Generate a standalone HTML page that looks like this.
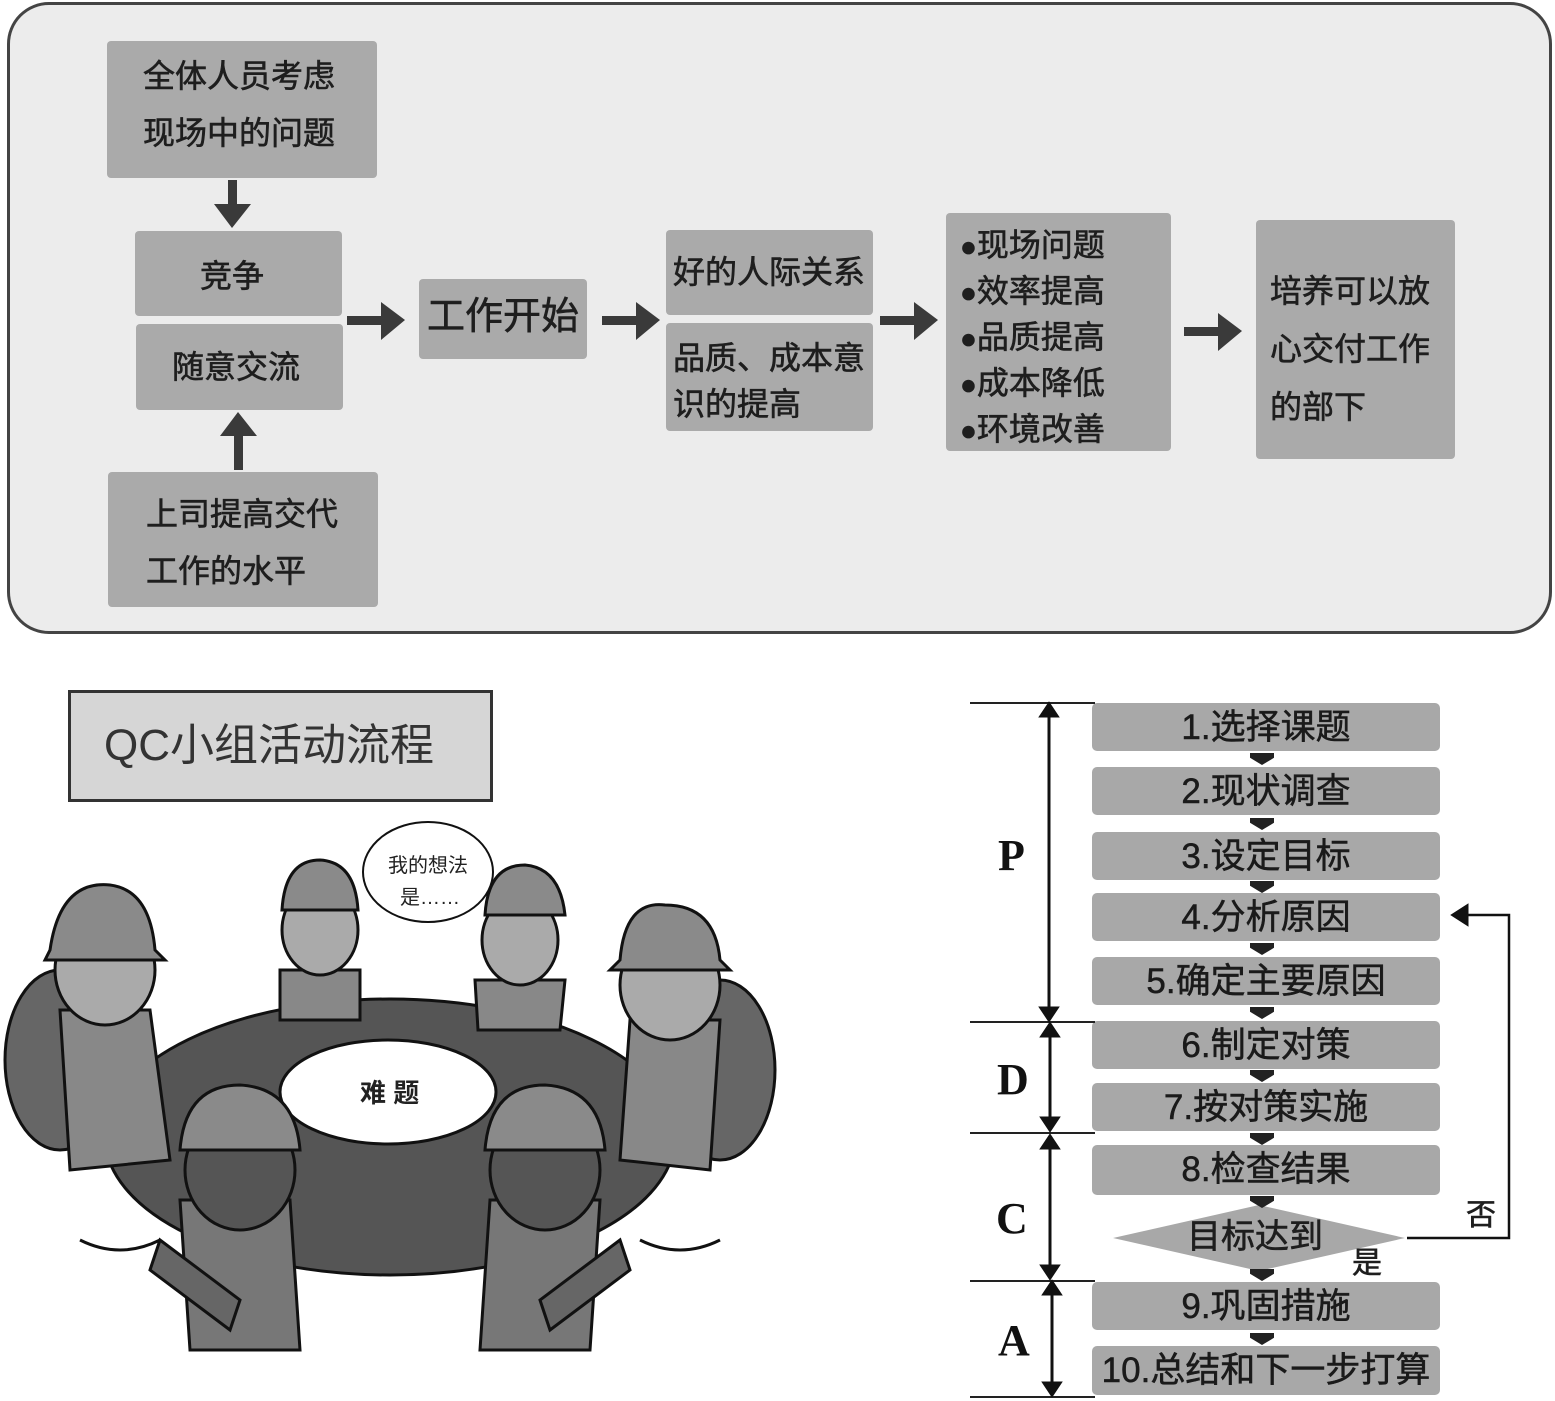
<!DOCTYPE html>
<html><head><meta charset="utf-8"><style>
*{margin:0;padding:0;box-sizing:border-box}
body{width:1555px;height:1401px;background:#fff;position:relative;overflow:hidden;font-family:"Liberation Sans","Noto Sans CJK SC",sans-serif;color:#1e1e1e}
.ab{position:absolute}
.bx{position:absolute;background:#aaa;border-radius:4px}
.t{position:absolute;white-space:nowrap;font-size:32px;line-height:1;-webkit-text-stroke:0.6px #1e1e1e}
.fb{position:absolute;left:1092px;width:348px;height:48px;background:#a8a8a8;border-radius:5px;font-size:35px;text-align:center;line-height:50px;color:#1a1a1a;-webkit-text-stroke:0.5px #1a1a1a}
.sa{position:absolute;left:1250px;width:24px;height:12px;background:#222;clip-path:polygon(0 0,100% 0,100% 40%,50% 100%,0 40%)}
.hl{position:absolute;left:970px;width:125px;height:2px;background:#222}
.L{position:absolute;font-family:"Liberation Serif",serif;font-weight:bold;font-size:44px;color:#111}
</style></head><body>
<div class="ab" style="left:7px;top:2px;width:1545px;height:632px;border:3px solid #444;border-radius:42px;background:#ececec"></div>

<div class="bx" style="left:107px;top:41px;width:270px;height:137px"></div>
<div class="t" style="left:143px;top:60px">全体人员考虑</div>
<div class="t" style="left:143px;top:117px">现场中的问题</div>
<div class="bx" style="left:135px;top:231px;width:207px;height:85px"></div>
<div class="t" style="left:200px;top:260px">竞争</div>
<div class="bx" style="left:136px;top:324px;width:207px;height:86px"></div>
<div class="t" style="left:172px;top:351px">随意交流</div>
<div class="bx" style="left:108px;top:472px;width:270px;height:135px"></div>
<div class="t" style="left:146px;top:498px">上司提高交代</div>
<div class="t" style="left:146px;top:555px">工作的水平</div>
<div class="bx" style="left:419px;top:279px;width:168px;height:80px"></div>
<div class="t" style="left:427px;top:298px;font-size:38px">工作开始</div>
<div class="bx" style="left:666px;top:230px;width:207px;height:85px"></div>
<div class="t" style="left:673px;top:256px">好的人际关系</div>
<div class="bx" style="left:666px;top:323px;width:207px;height:108px"></div>
<div class="t" style="left:673px;top:342px">品质、成本意</div>
<div class="t" style="left:673px;top:388px">识的提高</div>
<div class="bx" style="left:946px;top:213px;width:225px;height:238px"></div>
<div class="t" style="left:960px;top:223px;line-height:45px"><span style="font-size:28px">●</span>现场问题<br><span style="font-size:28px">●</span>效率提高<br><span style="font-size:28px">●</span>品质提高<br><span style="font-size:28px">●</span>成本降低<br><span style="font-size:28px">●</span>环境改善</div>
<div class="bx" style="left:1256px;top:220px;width:199px;height:239px"></div>
<div class="t" style="left:1270px;top:262px;line-height:58px">培养可以放<br>心交付工作<br>的部下</div>

<svg class="ab" style="left:0;top:0" width="1555" height="640">
<g fill="#3a3a3a">
<rect x="228" y="180" width="9" height="24"/><polygon points="214,204 251,204 232,228"/>
<rect x="234" y="436" width="9" height="34"/><polygon points="220,436 257,436 238,412"/>
<rect x="347" y="316" width="34" height="9"/><polygon points="381,302 381,340 405,320"/>
<rect x="602" y="316" width="34" height="9"/><polygon points="636,302 636,340 660,320"/>
<rect x="880" y="316" width="34" height="9"/><polygon points="914,302 914,340 938,320"/>
<rect x="1184" y="327" width="34" height="9"/><polygon points="1218,313 1218,351 1242,331"/>
</g></svg>

<div class="ab" style="left:68px;top:690px;width:425px;height:112px;border:3px solid #333;background:#d6d6d6"></div>
<div class="t" style="left:104px;top:724px;font-size:44px;color:#333;-webkit-text-stroke:0">QC小组活动流程</div>

<svg class="ab" style="left:0;top:820px" width="860" height="581">
<g stroke="#111" stroke-width="3">
<ellipse cx="390" cy="317" rx="285" ry="138" fill="#555"/>
<ellipse cx="388" cy="272" rx="108" ry="52" fill="#fff"/>
<ellipse cx="60" cy="240" rx="55" ry="90" fill="#666"/>
<ellipse cx="720" cy="250" rx="55" ry="90" fill="#666"/>
<path d="M80 420 Q120 440 160 420" fill="none"/><path d="M640 420 Q680 440 720 420" fill="none"/>
<path d="M60 190 L150 190 L170 340 L70 350Z" fill="#888"/>
<ellipse cx="105" cy="150" rx="50" ry="55" fill="#aaa"/>
<path d="M50 130 Q60 60 110 65 Q150 70 155 130 L165 140 L45 140Z" fill="#8a8a8a"/>
<path d="M630 200 L720 200 L710 350 L620 340Z" fill="#888"/>
<ellipse cx="670" cy="165" rx="50" ry="55" fill="#aaa"/>
<path d="M620 140 Q625 80 665 85 Q715 85 720 140 L730 150 L610 150Z" fill="#8a8a8a"/>
<path d="M280 150 L360 150 L360 200 L280 200Z" fill="#888"/>
<ellipse cx="320" cy="110" rx="38" ry="45" fill="#aaa"/>
<path d="M282 90 Q285 40 320 40 Q355 42 358 90Z" fill="#8a8a8a"/>
<path d="M475 160 L565 160 L560 210 L478 210Z" fill="#888"/>
<ellipse cx="520" cy="120" rx="38" ry="45" fill="#aaa"/>
<path d="M485 95 Q488 45 525 45 Q560 48 565 95Z" fill="#8a8a8a"/>
<path d="M180 380 L290 380 L300 530 L190 530Z" fill="#777"/>
<ellipse cx="240" cy="350" rx="55" ry="60" fill="#555"/>
<path d="M180 330 Q185 265 240 265 Q295 268 300 330Z" fill="#8a8a8a"/>
<path d="M490 380 L600 380 L590 530 L480 530Z" fill="#777"/>
<ellipse cx="545" cy="350" rx="55" ry="60" fill="#555"/>
<path d="M485 330 Q490 265 545 265 Q600 268 605 330Z" fill="#8a8a8a"/>
<path d="M160 420 L240 480 L230 510 L150 450Z" fill="#666"/>
<path d="M620 420 L540 480 L550 510 L630 450Z" fill="#666"/>
<ellipse cx="428" cy="52" rx="65" ry="50" fill="#fff" stroke-width="2"/>
</g>
<text x="388" y="52" font-size="20" font-family="Liberation Sans,Noto Sans CJK SC,sans-serif" fill="#222">我的想法</text>
<text x="400" y="84" font-size="20" font-family="Liberation Sans,Noto Sans CJK SC,sans-serif" fill="#222">是……</text>
<text x="360" y="282" font-size="26" font-weight="bold" font-family="Liberation Sans,Noto Sans CJK SC,sans-serif" fill="#222">难 题</text>
</svg>

<div class="fb" style="top:703px">1.选择课题</div>
<div class="fb" style="top:767px">2.现状调查</div>
<div class="fb" style="top:832px">3.设定目标</div>
<div class="fb" style="top:893px">4.分析原因</div>
<div class="fb" style="top:957px">5.确定主要原因</div>
<div class="fb" style="top:1021px">6.制定对策</div>
<div class="fb" style="top:1083px">7.按对策实施</div>
<div class="fb" style="top:1145px;height:50px">8.检查结果</div>
<div class="ab" style="left:1113px;top:1205px;width:292px;height:66px;background:#a8a8a8;clip-path:polygon(0 50%,50% 0,100% 50%,50% 100%)"></div>
<div class="t" style="left:1187px;top:1220px;font-size:34px">目标达到</div>
<div class="fb" style="top:1282px">9.巩固措施</div>
<div class="fb" style="top:1346px;height:49px">10.总结和下一步打算</div>
<div class="sa" style="top:753px"></div><div class="sa" style="top:818px"></div><div class="sa" style="top:881px"></div><div class="sa" style="top:943px"></div><div class="sa" style="top:1007px"></div><div class="sa" style="top:1070px"></div><div class="sa" style="top:1133px"></div><div class="sa" style="top:1196px"></div><div class="sa" style="top:1269px"></div><div class="sa" style="top:1333px"></div>
<div class="hl" style="top:702px"></div><div class="hl" style="top:1021px"></div><div class="hl" style="top:1132px"></div><div class="hl" style="top:1280px"></div><div class="hl" style="top:1396px"></div>
<svg class="ab" style="left:960px;top:690px" width="595" height="711">
<g stroke="#111" stroke-width="3" fill="#111">
<line x1="89" y1="22" x2="89" y2="322"/><polygon points="81,26 97,26 89,14" /><polygon points="81,318 97,318 89,330"/>
<line x1="90" y1="342" x2="90" y2="432"/><polygon points="82,346 98,346 90,334"/><polygon points="82,428 98,428 90,440"/>
<line x1="90" y1="454" x2="90" y2="580"/><polygon points="82,458 98,458 90,446"/><polygon points="82,576 98,576 90,588"/>
<line x1="92" y1="600" x2="92" y2="697"/><polygon points="84,604 100,604 92,592"/><polygon points="84,693 100,693 92,705"/>
<polyline points="447,548 549,548 549,225 505,225" fill="none" stroke-width="2.5"/>
<polygon points="507,216 507,234 493,225"/>
</g></svg>
<div class="L" style="left:998px;top:830px">P</div>
<div class="L" style="left:997px;top:1054px">D</div>
<div class="L" style="left:996px;top:1193px">C</div>
<div class="L" style="left:998px;top:1315px">A</div>
<div class="t" style="left:1466px;top:1201px;font-size:30px">否</div>
<div class="t" style="left:1352px;top:1249px;font-size:30px">是</div>
</body></html>
